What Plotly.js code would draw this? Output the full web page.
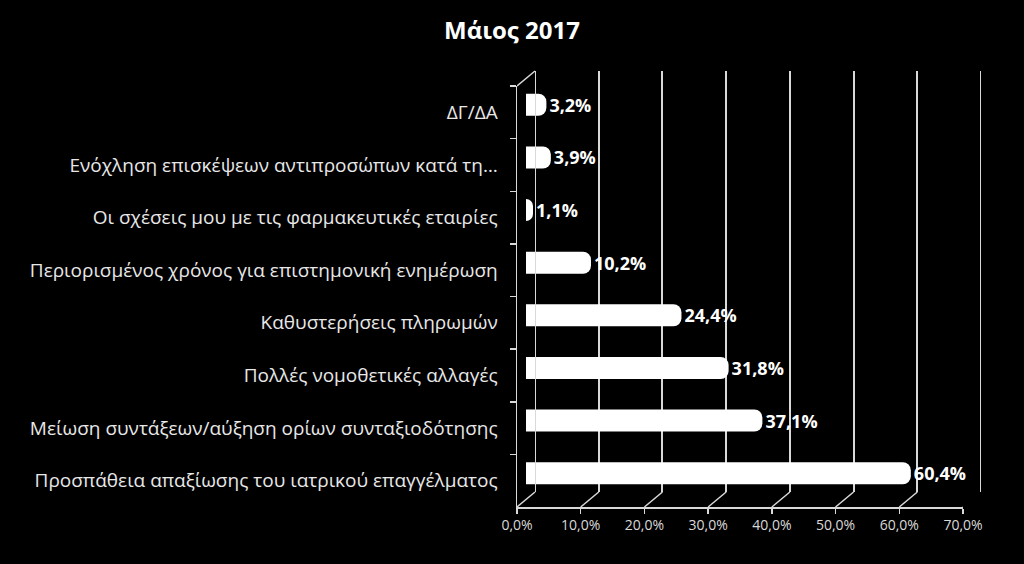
<!DOCTYPE html>
<html>
<head>
<meta charset="utf-8">
<script src="https://cdn.plot.ly/plotly-3.0.1.min.js"></script>
<style>html,body{margin:0;padding:0;background:#000;}#chart{width:1024px;height:564px;}</style>
</head>
<body>
<div id="chart"></div>
<script>
// Data (top to bottom as shown)
const categories = [
  "ΔΓ/ΔΑ",
  "Ενόχληση επισκέψεων αντιπροσώπων κατά τη…",
  "Οι σχέσεις μου με τις φαρμακευτικές εταιρίες",
  "Περιορισμένος χρόνος για επιστημονική ενημέρωση",
  "Καθυστερήσεις πληρωμών",
  "Πολλές νομοθετικές αλλαγές",
  "Μείωση συντάξεων/αύξηση ορίων συνταξιοδότησης",
  "Προσπάθεια απαξίωσης του ιατρικού επαγγέλματος"
];
const values = [3.2, 3.9, 1.1, 10.2, 24.4, 31.8, 37.1, 60.4];
const xTicks = [0, 10, 20, 30, 40, 50, 60, 70];
const xTickLabels = ["0,0%", "10,0%", "20,0%", "30,0%", "40,0%", "50,0%", "60,0%", "70,0%"];
const titleText = "Μάιος 2017";

const W = 1024, H = 564;
const px = v => v / W;
const py = v => 1 - v / H;
const lineCol = '#d9d9d9';
const FONT = '"Open Sans", sans-serif';
const DX = 18, DY = 15;

const traces = [
  {type:'scatter', x: values, y: categories, xaxis:'x', yaxis:'y', mode:'markers',
   marker:{opacity:0}, hoverinfo:'skip', showlegend:false},
  {type:'scatter', x: values, y: values, xaxis:'x2', yaxis:'y2', mode:'markers',
   marker:{opacity:0}, hoverinfo:'skip', showlegend:false},
  {type:'bar', orientation:'h', x: values, y: categories, xaxis:'x3', yaxis:'y3',
   marker:{color:'#ffffff', cornerradius: 8, line:{width:0}},
   texttemplate:'<b>%{x:.1f}%</b>', textposition:'outside', cliponaxis:false,
   constraintext:'none',
   textfont:{family:FONT, size:18, color:'#ffffff'}, hoverinfo:'skip', showlegend:false}
];

const shapes = xTicks.map(t => ({
  type:'line', xref:'x', xsizemode:'pixel', xanchor:t, x0:0, x1:DX,
  yref:'paper', ysizemode:'pixel', yanchor:py(507), y0:0, y1:DY,
  line:{color:lineCol, width:1.5}
}));
shapes.push({
  type:'line', xref:'x', xsizemode:'pixel', xanchor:0, x0:0, x1:DX,
  yref:'paper', ysizemode:'pixel', yanchor:py(86), y0:0, y1:DY,
  line:{color:lineCol, width:1.5}
});
[xTicks[0], xTicks[xTicks.length-1]].forEach(t => shapes.push({
  type:'line', xref:'x2', x0:t, x1:t, yref:'y2 domain', y0:0, y1:1,
  line:{color:lineCol, width:2}
}));

const layout = {
  width:W, height:H,
  paper_bgcolor:'#000', plot_bgcolor:'rgba(0,0,0,0)',
  margin:{l:0, r:0, t:0, b:0},
  separators:',.',
  showlegend:false,
  bargap:0.58,
  title:{text:'<b>'+titleText+'</b>', x:0.5, xanchor:'center', y:py(31), yanchor:'middle',
         font:{family:FONT, size:24, color:'#ffffff'}},
  xaxis:{domain:[px(517), px(963)], anchor:'y', range:[0,70], tickmode:'array',
         tickvals:xTicks, ticktext:xTickLabels, showgrid:false, zeroline:false,
         showline:true, linecolor:lineCol, linewidth:1.5,
         ticks:'outside', ticklen:5, tickcolor:lineCol, tickwidth:1.5,
         tickfont:{family:FONT, size:14, color:lineCol}, fixedrange:true},
  yaxis:{domain:[py(507), py(86)], anchor:'x', type:'category',
         categoryorder:'array', categoryarray:categories, range:[7.5,-0.5],
         showgrid:false, zeroline:false, showline:true, linecolor:lineCol, linewidth:1.5,
         ticks:'outside', tickson:'boundaries', ticklen:6, tickcolor:lineCol, tickwidth:1.5,
         ticklabelstandoff:14,
         tickfont:{family:FONT, size:19, color:'#e8e8e8'}, fixedrange:true},
  xaxis2:{domain:[px(535), px(981)], anchor:'y2', range:[0,70], tickmode:'array', tickvals:xTicks,
          showticklabels:false, ticks:'', showgrid:true, gridcolor:lineCol, gridwidth:2,
          zeroline:false, showline:false, fixedrange:true},
  yaxis2:{domain:[py(492), py(71)], anchor:'x2', range:[0,1], showgrid:false,
          showticklabels:false, ticks:'', zeroline:false, showline:false, fixedrange:true},
  xaxis3:{domain:[px(526), px(972)], anchor:'y3', range:[0,70], visible:false, fixedrange:true},
  yaxis3:{domain:[py(499.5), py(78.5)], anchor:'x3', type:'category',
          categoryorder:'array', categoryarray:categories, range:[7.5,-0.5],
          visible:false, fixedrange:true},
  shapes:shapes
};

Plotly.newPlot('chart', traces, layout, {displayModeBar:false, staticPlot:true});
</script>
</body>
</html>
